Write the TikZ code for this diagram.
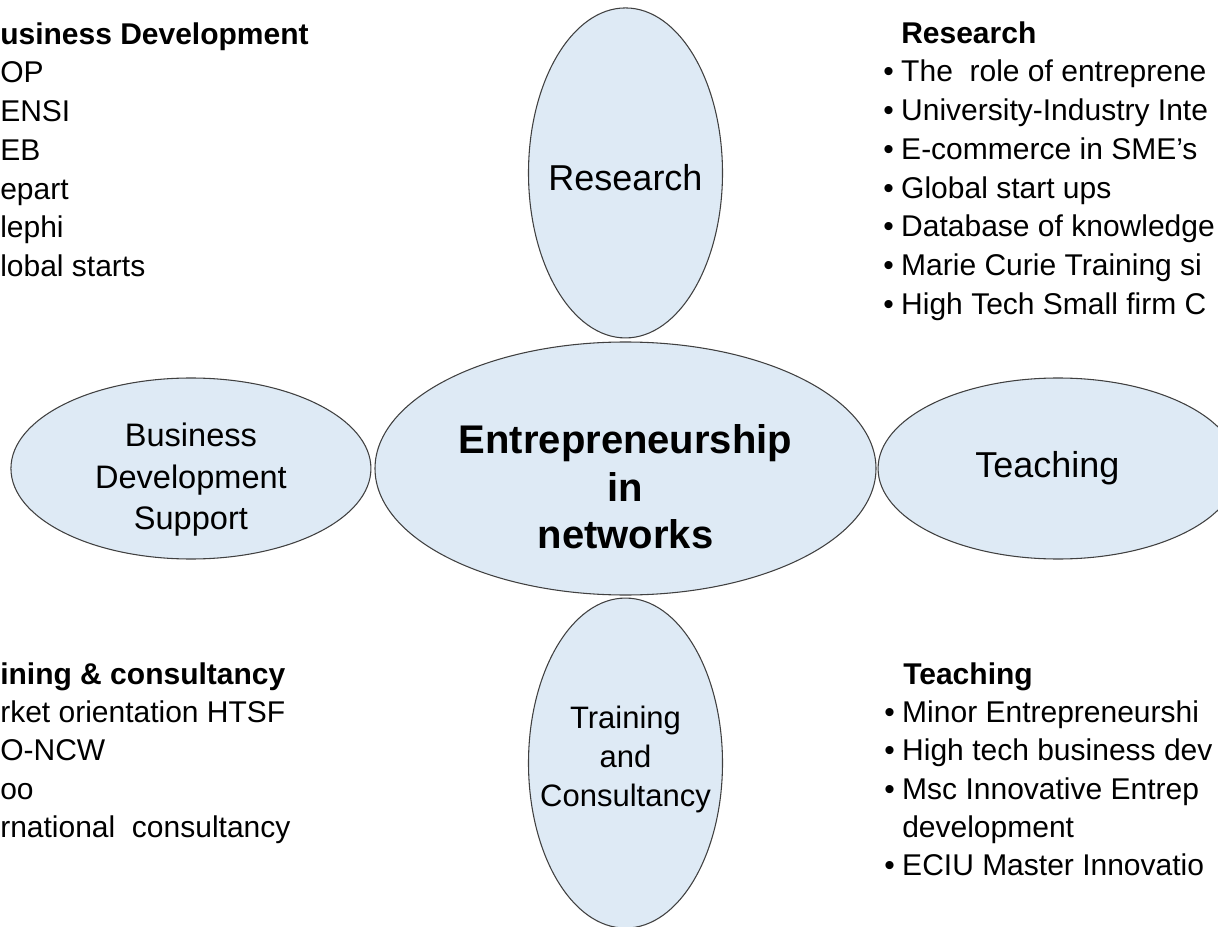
\documentclass[tikz,border=0pt]{standalone}
\usepackage{fontspec}
\setmainfont{Liberation Sans}
\usetikzlibrary{shapes.geometric, positioning}
\definecolor{bubblefill}{RGB}{222,234,245}
\definecolor{bubbleline}{RGB}{64,64,64}
\newcommand{\blt}{\makebox[13.5pt][l]{\textbullet}}
\tikzset{
  bubble/.style={ellipse, draw=bubbleline, fill=bubblefill, line width=0.8pt, inner sep=0pt},
  vbubble/.style={bubble, minimum width=145.5pt, minimum height=247.5pt},
  hbubble/.style={bubble, minimum width=270pt, minimum height=135.75pt},
  listitem/.style={anchor=base west, inner sep=0pt, font=\fontsize{22.5}{27}\selectfont},
  listhead/.style={listitem, font=\fontsize{22.5}{27}\selectfont\bfseries},
  bubbletext/.style={inner sep=0pt, align=center}
}

\begin{document}
\begin{tikzpicture}[x=0.75pt, y=-0.75pt, node distance=2pt]
    \useasboundingbox (0,0) rectangle (1218,927);

    % the five bubbles
    \node[bubble, minimum width=375.75pt, minimum height=189.75pt] (hub) at (625.5,468.5) {};
    \node[vbubble, above=2.25pt of hub] (res) {};
    \node[vbubble, below=1.5pt of hub] (trn) {};
    \node[hbubble, left=2.25pt of hub] (bds) {};
    \node[hbubble, right=0.75pt of hub] (tch) {};

    \node[bubbletext, font=\fontsize{30}{35.6}\selectfont\bfseries] (hubtxt)
        at ([yshift=-13.9pt]hub.center) {Entrepreneurship\\in\\networks};
    \node[bubbletext, anchor=base, font=\fontsize{27}{32}\selectfont] (restxt)
        at ([yshift=-13.5pt]res.center) {Research};
    \node[bubbletext, anchor=base, font=\fontsize{27}{32}\selectfont] (tchtxt)
        at ([xshift=-8pt, yshift=-7.1pt]tch.center) {Teaching};
    \node[bubbletext, font=\fontsize{24.4}{31.1}\selectfont] (bdstxt)
        at ([yshift=-8.5pt]bds.center) {Business\\Development\\Support};
    \node[bubbletext, font=\fontsize{23.25}{29.25}\selectfont] (trntxt)
        at ([yshift=2.5pt]trn.center) {Training\\and\\Consultancy};

    % business development (top left)
    \node[listhead] (bdhead) at (0,45) {usiness Development};
    \foreach \txt [count=\k from 0] in {OP, ENSI, EB, epart, lephi, lobal starts}
        \node[listitem] (bd\k) at (0, 83+38.7*\k) {\txt};

    % research (top right)
    \node[listhead] (rshead) at (901,44) {Research};
    \foreach \txt [count=\k from 0] in {The~ role of entreprene, University-Industry Inte,
        E-commerce in SME’s, Global start ups, Database of knowledge,
        Marie Curie Training si, High Tech Small firm C}
        \node[listitem] (rs\k) at (883, 82+38.7*\k) {\blt\txt};

    % training and consultancy (bottom left)
    \node[listhead] (tchead) at (0,684) {ining \& consultancy};
    \foreach \txt [count=\k from 0] in {rket orientation HTSF, O-NCW, oo, rnational~ consultancy}
        \node[listitem] (tc\k) at (0, 722.5+38.3*\k) {\txt};

    % teaching (bottom right)
    \node[listhead] (tghead) at (903,684) {Teaching};
    \foreach \txt [count=\k from 0] in {Minor Entrepreneurshi, High tech business dev,
        Msc Innovative Entrep}
        \node[listitem] (tg\k) at (884, 722.5+38.3*\k) {\blt\txt};
    \node[listitem] (tg3) at (902,837.4) {development};
    \node[listitem] (tg4) at (884,875.7) {\blt ECIU Master Innovatio};
\end{tikzpicture}
\end{document}
